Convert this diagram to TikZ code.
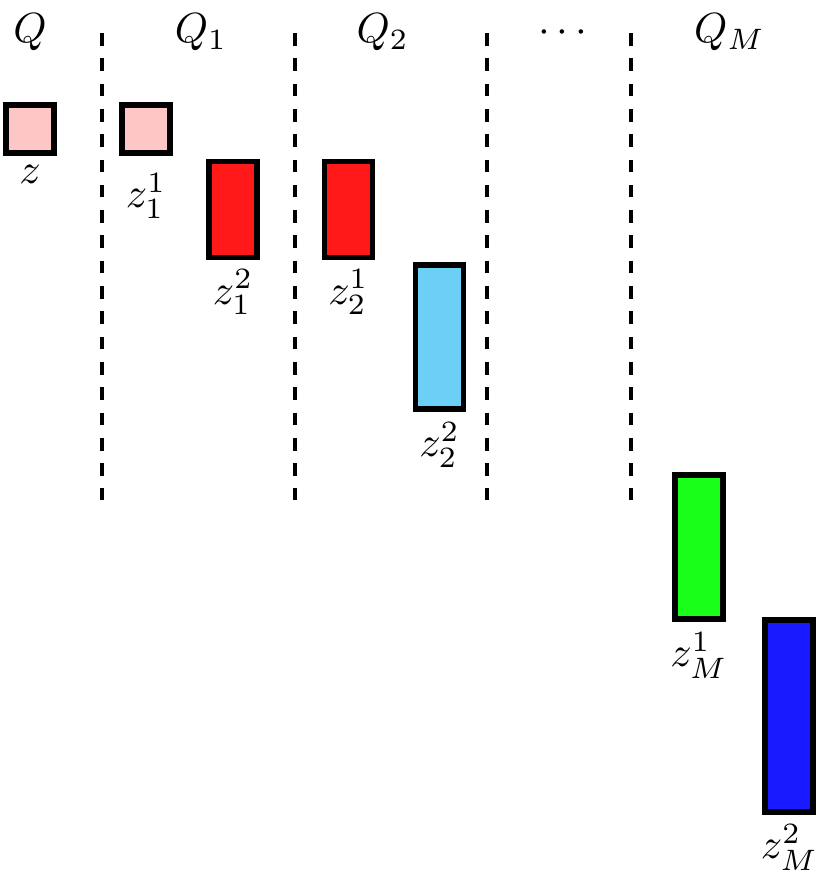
\documentclass[tikz,border=0pt]{standalone}
\usetikzlibrary{positioning}
\definecolor{pinkbox}{RGB}{255,198,198}
\definecolor{skybox}{RGB}{108,207,246}
\begin{document}
\begin{tikzpicture}[
    blk/.style={draw, line width=1.4pt, inner sep=0pt, minimum width=0.4cm},
    sep/.style={dashed, line width=0.8pt},
    lbl/.style={inner sep=0pt}
  ]
                \useasboundingbox (0,0) rectangle (6.933,-7.367);

                \node[anchor=base] (q0) at (0.25,-0.358) {$Q$};
                \node[anchor=base] (q1) at (1.675,-0.358) {$Q_1$};
                \node[anchor=base] (q2) at (3.19,-0.358) {$Q_2$};
                \node[anchor=base] (qdots) at (4.69,-0.358) {$\cdots$};
                \node[anchor=base] (qM) at (6.08,-0.358) {$Q_M$};

                \foreach \x in {0.85,2.458,4.058,5.258}
                    \draw[sep] (\x,-0.275) -- (\x,-4.167);

                \node[blk, fill=pinkbox, minimum height=0.4cm] (z) at (0.25,-1.075) {};
                \node[blk, fill=pinkbox, minimum height=0.4cm] (z11) at (1.217,-1.075) {};
                \node[blk, fill=red!90, minimum height=0.8cm] (z12) at (1.942,-1.746) {};
                \node[blk, fill=red!90, minimum height=0.8cm] (z21) at (2.904,-1.746) {};
                \node[blk, fill=skybox, minimum height=1.2cm] (z22) at (3.663,-2.808) {};
                \node[blk, fill=green!90, minimum height=1.2cm] (zM1) at (5.825,-4.558) {};
                \node[blk, fill=blue!90, minimum height=1.6cm] (zM2) at (6.579,-5.967) {};

                \node[lbl, below=2pt of z] (lz) {$z$};
                \node[lbl, below=4pt of z11] (lz11) {$z_1^1$};
                \node[lbl, below=2pt of z12] (lz12) {$z_1^2$};
                \node[lbl, below=2pt of z21] (lz21) {$z_2^1$};
                \node[lbl, below=2.3pt of z22] (lz22) {$z_2^2$};
                \node[lbl, below=2.3pt of zM1] (lzM1) {$z_M^1$};
                \node[lbl, below=2pt of zM2] (lzM2) {$z_M^2$};
            \end{tikzpicture}
\end{document}
